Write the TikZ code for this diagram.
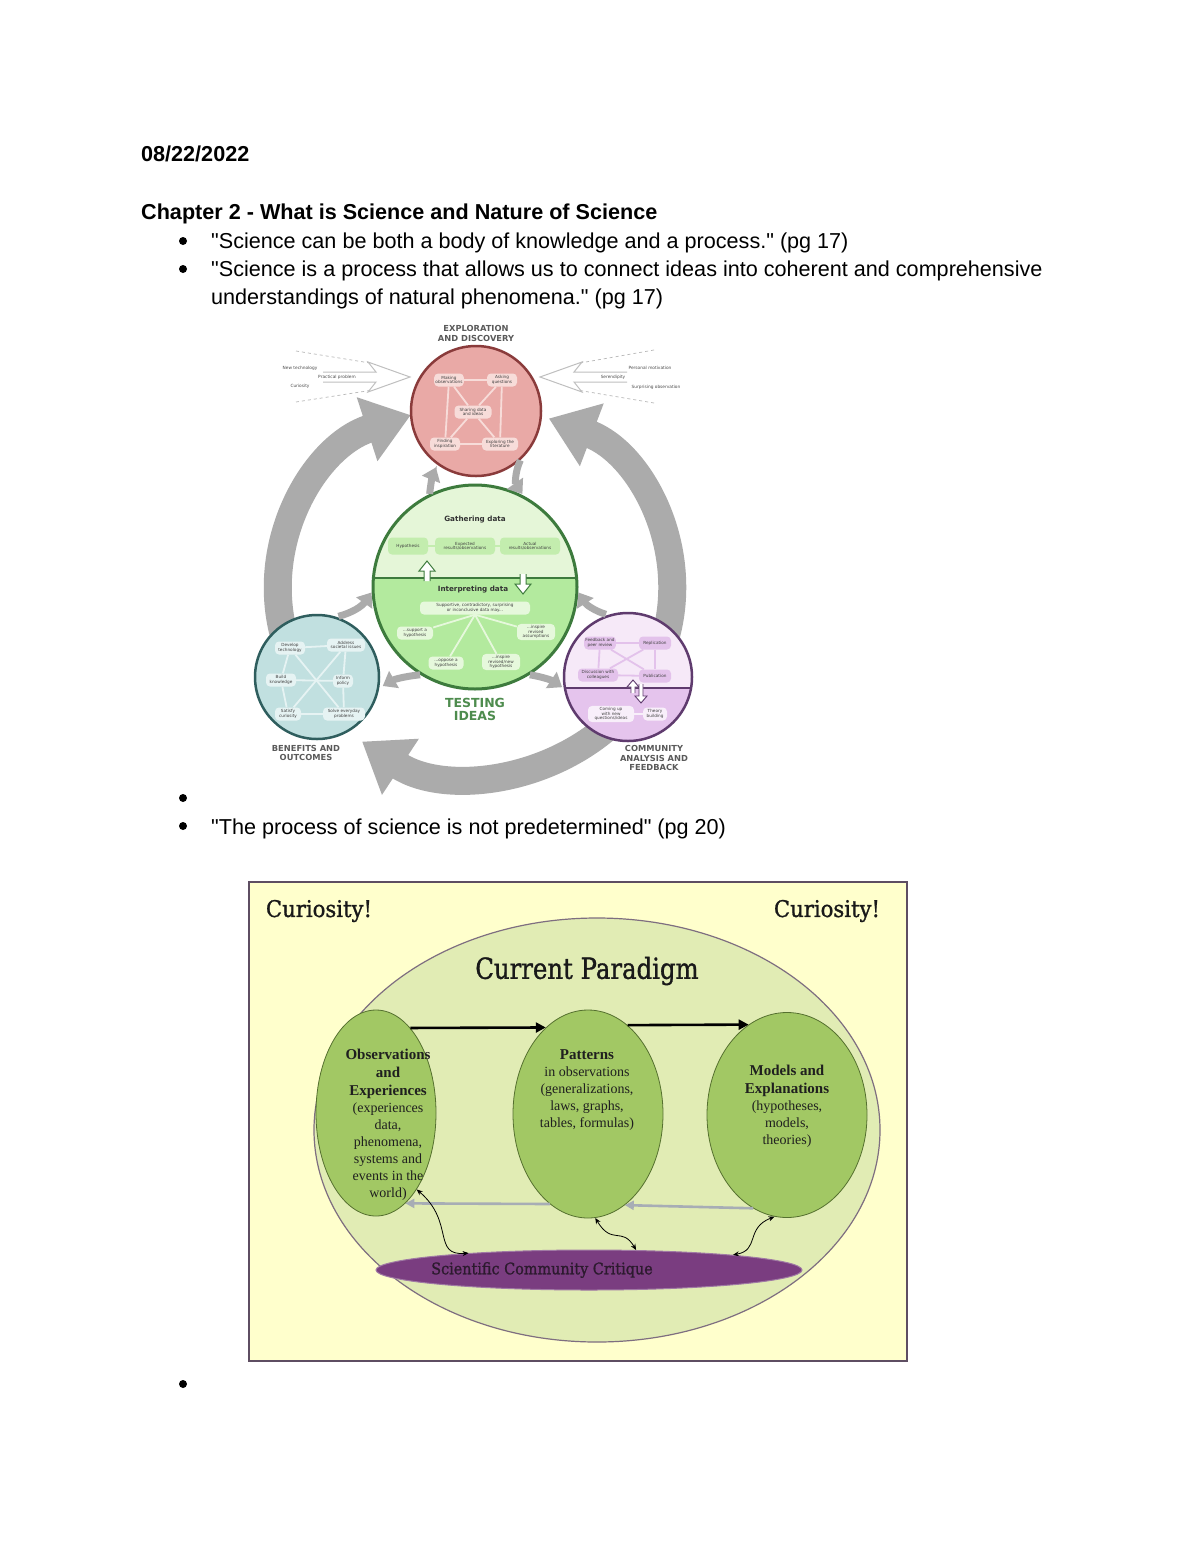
\documentclass[tikz,border=0pt]{standalone}
\usepackage{fontspec}
\usepackage{graphicx}
\setmainfont{Liberation Sans}[Ligatures=TeXOff]
\newfontfamily\timesf{Liberation Serif}
\newfontfamily\slabf{DejaVu Serif}[FakeBold=1.2]
\newfontfamily\dvsans{DejaVu Sans}
\usetikzlibrary{arrows.meta,shapes.geometric,calc}
\definecolor{biggrey}{HTML}{ABABAB}
\definecolor{pinkfill}{HTML}{E9A9A6}
\definecolor{pinkline}{HTML}{8A3B3B}
\definecolor{pinkbox}{HTML}{F7DCD9}
\definecolor{gtop}{HTML}{E5F6D8}
\definecolor{gbot}{HTML}{B3EA9E}
\definecolor{gline}{HTML}{3D7B3D}
\definecolor{gbox}{HTML}{C3EDAE}
\definecolor{glbox}{HTML}{E6F8DC}
\definecolor{tfill}{HTML}{C1E0E0}
\definecolor{tline}{HTML}{2F5E5E}
\definecolor{tbox}{HTML}{E6F3F3}
\definecolor{ltop}{HTML}{F6E9F8}
\definecolor{lbot}{HTML}{E5C4ED}
\definecolor{lline}{HTML}{5F3B6E}
\definecolor{lbox}{HTML}{E3C2EB}
\definecolor{llbox}{HTML}{F8EFFA}
\definecolor{labgrey}{HTML}{5A5A5A}
\definecolor{testgreen}{HTML}{4E8C4E}
\definecolor{paper}{HTML}{FFFFCC}
\definecolor{framec}{HTML}{5E4E62}
\definecolor{paradigm}{HTML}{E1ECB4}
\definecolor{pargrey}{HTML}{7E6E80}
\definecolor{ellg}{HTML}{A2C864}
\definecolor{ellline}{HTML}{55702F}
\definecolor{critfill}{HTML}{7A3D80}
\definecolor{critline}{HTML}{A07AA4}
\definecolor{critext}{HTML}{2C1A2E}
\definecolor{backarrow}{HTML}{A7ADB5}
\begin{document}
\begin{tikzpicture}[x=1pt,y=-1pt,
  bodytext/.style={anchor=base west,inner sep=0pt,font=\fontsize{21.6}{26}\selectfont},
  headtext/.style={anchor=base west,inner sep=0pt,font=\bfseries\fontsize{21.6}{26}\selectfont},
  bulletdot/.style={circle,fill=black,inner sep=0pt,minimum size=8pt},
  bigarrow/.style={draw=biggrey,line width=28pt,-{Triangle[length=46pt,width=64pt]}},
  smallarrow/.style={draw=biggrey,line width=7pt,-{Triangle[length=13pt,width=19pt]}},
  tinybox/.style={font=\dvsans\fontsize{4.2}{4.7}\selectfont,align=center,rounded corners=4pt,inner sep=1.3pt,text=black!75,minimum height=13pt},
  pinkbx/.style={tinybox,fill=pinkbox},
  greenbx/.style={tinybox,fill=gbox,minimum height=17pt},
  lgreenbx/.style={tinybox,fill=glbox},
  tealbx/.style={tinybox,fill=tbox},
  lilacbx/.style={tinybox,fill=lbox},
  llilacbx/.style={tinybox,fill=llbox},
  pinkln/.style={draw=pinkbox,line width=1.8pt},
  greenln/.style={draw=glbox,line width=1.8pt},
  gtopln/.style={draw=gbox,line width=1.8pt},
  tealln/.style={draw=tbox,line width=1.8pt},
  lilacln/.style={draw=lbox,line width=1.8pt},
  circlab/.style={font=\dvsans\bfseries\fontsize{8.3}{9.3}\selectfont,text=labgrey,align=center},
  secttitle/.style={font=\dvsans\bfseries\fontsize{7.2}{8}\selectfont,text=black!80},
  inlab/.style={font=\dvsans\fontsize{4.3}{5}\selectfont,text=black!70},
  dashline/.style={draw=black!28,dashed,line width=0.7pt},
  inarrow/.style={draw=black!25,fill=white,line width=1pt},
  hollowg/.style={draw=gline,fill=white,line width=1pt},
  hollowl/.style={draw=lline,fill=white,line width=0.9pt},
  ellfont/.style={font=\timesf\fontsize{14}{17}\selectfont,align=center,text=black!88},
  greenell/.style={ellipse,fill=ellg,draw=ellline,line width=0.8pt,inner sep=0pt},
  fwdarrow/.style={draw=black,line width=2.6pt,-{Triangle[length=10pt,width=10pt]}},
  bckarrow/.style={draw=backarrow,line width=2.6pt,-{Triangle[length=9pt,width=9pt]}},
  squig/.style={draw=black,line width=0.8pt,{Stealth[length=6pt,width=5pt]}-{Stealth[length=6pt,width=5pt]}}
]
\fill[white] (0,0) rectangle (1200,1553);
\useasboundingbox (0,0) rectangle (1200,1553);

% ---------------- text lines ----------------
\node[headtext] (date) at (141,161) {08/22/2022};
\node[headtext] (chap) at (141,219) {Chapter 2 - What is Science and Nature of Science};
\node[bulletdot] (bu1) at (183,241) {};
\node[bodytext] (q1) at (211,248) {"Science can be both a body of knowledge and a process." (pg 17)};
\node[bulletdot] (bu2) at (183,269) {};
\node[bodytext] (q2) at (211,276) {"Science is a process that allows us to connect ideas into coherent and comprehensive};
\node[bodytext] (q2b) at (211,304) {understandings of natural phenomena." (pg 17)};
\node[bulletdot] (bu3) at (183,798) {};
\node[bulletdot] (bu4) at (183,826) {};
\node[bodytext] (q3) at (211,834) {"The process of science is not predetermined" (pg 20)};
\node[bulletdot] (bu5) at (183,1384) {};

% ---------------- diagram 1: big cycle arrows ----------------
\coordinate (la) at ({475+197*cos(165)},{590+185*sin(165)});
\draw[bigarrow] (la) arc[start angle=165,end angle=251,x radius=197,y radius=185];
\coordinate (ra) at ({475+197*cos(15)},{590+185*sin(15)});
\draw[bigarrow] (ra) arc[start angle=15,end angle=-68,x radius=197,y radius=185];
\coordinate (ba) at ({475+197*cos(40)},{590+185*sin(40)});
\draw[bigarrow] (ba) arc[start angle=40,end angle=125,x radius=197,y radius=185];

% inputs to exploration
\draw[dashline] (296,351) -- (370,363);
\draw[dashline] (296,402) -- (373,390);
\draw[dashline] (654,350) -- (580,363);
\draw[dashline] (654,403) -- (577,390);
\draw[inarrow] (323,372) -- (376,372) -- (368,362) -- (410,377) -- (368,392) -- (376,382) -- (323,382);
\draw[inarrow] (627,372) -- (574,372) -- (582,362) -- (540,377) -- (582,392) -- (574,382) -- (627,382);
\node[inlab] (newt) at (300,368) {New technology};
\node[inlab] (prac) at (337,377) {Practical problem};
\node[inlab] (curi) at (300,386) {Curiosity};
\node[inlab] (pers) at (650,368) {Personal motivation};
\node[inlab] (sere) at (613,377) {Serendipity};
\node[inlab] (surp) at (656,387) {Surprising observation};

% exploration circle
\node[circlab] (explab) at (476,333.5) {EXPLORATION\\AND DISCOVERY};
\node[circle,minimum size=130,inner sep=0pt,fill=pinkfill,draw=pinkline,line width=2.5pt] (expl) at (476,411) {};
\node[pinkbx,minimum width=29] (mak) at (449,380) {Making\\observations};
\node[pinkbx,minimum width=30] (ask) at (502,380) {Asking\\questions};
\node[pinkbx,minimum width=37] (sha) at (473,412) {Sharing data\\and ideas};
\node[pinkbx,minimum width=30] (fin) at (445,444) {Finding\\inspiration};
\node[pinkbx,minimum width=36] (exl) at (500,444) {Exploring the\\literature};
\draw[pinkln] (mak) -- (ask);
\draw[pinkln] (mak) -- (fin);
\draw[pinkln] (ask) -- (exl);
\draw[pinkln] (fin) -- (exl);
\draw[pinkln] (sha) -- (mak);
\draw[pinkln] (sha) -- (ask);
\draw[pinkln] (sha) -- (fin);
\draw[pinkln] (sha) -- (exl);

% testing circle
\begin{scope}
\clip (475,587) circle[radius=102];
\fill[gtop] (370,480) rectangle (580,578);
\fill[gbot] (370,578) rectangle (580,695);
\draw[gline,line width=1.5pt] (370,578) -- (580,578);
\end{scope}
\node[circle,minimum size=204,inner sep=0pt,draw=gline,line width=3pt] (test) at (475,587) {};
\node[secttitle] (gath) at (475,520) {Gathering data};
\node[greenbx,minimum width=40] (hyp) at (408,546) {Hypothesis};
\node[greenbx,minimum width=60] (expr) at (465,546) {Expected\\results/observations};
\node[greenbx,minimum width=60] (actr) at (530,546) {Actual\\results/observations};
\draw[gtopln] (hyp) -- (expr);
\draw[gtopln] (expr) -- (actr);
\draw[hollowg] (424,581) -- (424,571) -- (419,571) -- (427,561) -- (435,571) -- (430,571) -- (430,581);
\draw[hollowg] (520,574) -- (520,584) -- (515,584) -- (523,594) -- (531,584) -- (526,584) -- (526,574);
\node[secttitle] (interp) at (473,590) {Interpreting data};
\node[lgreenbx,minimum width=110] (supp) at (475,608) {Supportive, contradictory, surprising\\or inconclusive data may...};
\node[lgreenbx,minimum width=36] (sup) at (415,633) {...support a\\hypothesis};
\node[lgreenbx,minimum width=35] (opp) at (446,663) {...oppose a\\hypothesis};
\node[lgreenbx,minimum width=38] (insp) at (501,662) {...inspire\\revised/new\\hypothesis};
\node[lgreenbx,minimum width=38] (insa) at (536,632) {...inspire\\revised\\assumptions};
\draw[greenln] (supp.south) -- (sup);
\draw[greenln] (supp.south) -- (opp);
\draw[greenln] (supp.south) -- (insp);
\draw[greenln] (supp.south) -- (insa);
\node[font=\dvsans\bfseries\fontsize{12.5}{13}\selectfont,text=testgreen,align=center] (tlab) at (475,709) {TESTING\\IDEAS};

% benefits circle
\node[circle,minimum size=124,inner sep=0pt,fill=tfill,draw=tline,line width=2.5pt] (ben) at (317,677) {};
\node[tealbx,minimum width=30] (dev) at (290,648) {Develop\\technology};
\node[tealbx,minimum width=38] (adr) at (346,645) {Address\\societal issues};
\node[tealbx,minimum width=30] (bui) at (281,680) {Build\\knowledge};
\node[tealbx,minimum width=20] (inf) at (343,681) {Inform\\policy};
\node[tealbx,minimum width=26] (sat) at (288,714) {Satisfy\\curiosity};
\node[tealbx,minimum width=42] (sol) at (344,714) {Solve everyday\\problems};
\draw[tealln] (dev) -- (adr);
\draw[tealln] (dev) -- (bui);
\draw[tealln] (bui) -- (sat);
\draw[tealln] (adr) -- (inf);
\draw[tealln] (inf) -- (sol);
\draw[tealln] (sat) -- (sol);
\draw[tealln] (dev) -- (sol);
\draw[tealln] (adr) -- (sat);
\draw[tealln] (bui) -- (inf);
\node[circlab] (benlab) at (306,753) {BENEFITS AND\\OUTCOMES};

% community circle
\begin{scope}
\clip (628,677) circle[radius=64];
\fill[ltop] (560,610) rectangle (700,688);
\fill[lbot] (560,688) rectangle (700,745);
\draw[lline,line width=1.3pt] (560,688) -- (700,688);
\end{scope}
\node[circle,minimum size=128,inner sep=0pt,draw=lline,line width=2.5pt] (comm) at (628,677) {};
\node[lilacbx,minimum width=30] (fdb) at (600,643) {Feedback and\\peer review};
\node[lilacbx,minimum width=32] (rep) at (655,643) {Replication};
\node[lilacbx,minimum width=40] (dis) at (598,675) {Discussion with\\colleagues};
\node[lilacbx,minimum width=32] (pub) at (655,676) {Publication};
\node[llilacbx,minimum width=46] (com) at (611,714) {Coming up\\with new\\questions/ideas};
\node[llilacbx,minimum width=24] (the) at (655,714) {Theory\\building};
\draw[lilacln] (fdb) -- (rep);
\draw[lilacln] (fdb) -- (dis);
\draw[lilacln] (rep) -- (pub);
\draw[lilacln] (dis) -- (pub);
\draw[lilacln] (fdb) -- (pub);
\draw[lilacln] (rep) -- (dis);
\draw[draw=llbox,line width=1.8pt] (com) -- (the);
\draw[hollowl] (631,693) -- (631,687) -- (627,687) -- (633,680) -- (639,687) -- (635,687) -- (635,693);
\draw[hollowl] (639,684) -- (639,696) -- (635,696) -- (641,703) -- (647,696) -- (643,696) -- (643,684);
\node[circlab] (comlab) at (654,758) {COMMUNITY\\ANALYSIS AND\\FEEDBACK};

% small arrows
\draw[smallarrow,shorten >=3pt] (test.116) to[bend left=8] (expl.234);
\draw[smallarrow,shorten >=2pt] (expl.-48) to[bend right=30] (test.62);
\draw[smallarrow,shorten <=2pt] (ben.72) to[bend right=20] (test.183);
\draw[smallarrow,shorten >=4pt] (test.238) to[bend right=12] (ben.-10);
\draw[smallarrow,shorten <=2pt] (comm.108) to[bend left=20] (test.-3);
\draw[smallarrow,shorten >=2pt] (test.-58) to[bend left=12] (comm.190);

% ---------------- diagram 2 ----------------
\node[draw=framec,line width=2.5pt,fill=paper,minimum width=658,minimum height=479,inner sep=0pt] (frame) at (578,1121.5) {};
\node[ellipse,fill=paradigm,draw=pargrey,line width=1.2pt,minimum width=566,minimum height=424,inner sep=0pt] (para) at (597,1130) {};
\node[font=\slabf\fontsize{23}{26}\selectfont,text=black!90] (cur1) at (319,911) {\scalebox{0.92}[1]{Curiosity!}};
\node[font=\slabf\fontsize{23}{26}\selectfont,text=black!90] (cur2) at (827,911) {\scalebox{0.92}[1]{Curiosity!}};
\node[font=\slabf\fontsize{29}{32}\selectfont,text=black!90] (cp) at (587,971) {\scalebox{0.84}[1]{Current Paradigm}};
\node[greenell,minimum width=120,minimum height=206] (obs) at (376,1113) {};
\node[greenell,minimum width=150,minimum height=208] (pat) at (588,1114) {};
\node[greenell,minimum width=160,minimum height=205] (mod) at (787,1115) {};
\node[ellfont] (obstext) at (388,1125) {{\bfseries\fontsize{15}{19}\selectfont Observations}\\[1pt]{\bfseries\fontsize{15}{19}\selectfont and}\\[1pt]{\bfseries\fontsize{15}{19}\selectfont Experiences}\\(experiences\\data,\\phenomena,\\systems and\\events in the\\world)};
\node[ellfont] (pattext) at (587,1090) {{\bfseries\fontsize{15}{19}\selectfont Patterns}\\in observations\\(generalizations,\\laws, graphs,\\tables, formulas)};
\node[ellfont] (modtext) at (787,1106) {{\bfseries\fontsize{15}{19}\selectfont Models and}\\[1pt]{\bfseries\fontsize{15}{19}\selectfont Explanations}\\(hypotheses,\\models,\\theories)};
\node[ellipse,fill=critfill,draw=critline,line width=1pt,minimum width=426,minimum height=40,inner sep=0pt] (crit) at (589,1270) {};
\node[font=\slabf\fontsize{16}{18}\selectfont,text=critext] (crittext) at (542,1270) {\scalebox{0.9}[1]{Scientific Community Critique}};
\draw[fwdarrow] (obs.68) -- (pat.116);
\draw[fwdarrow] (pat.66) -- (mod.113);
\draw[bckarrow] (pat.247) -- (obs.288);
\draw[bckarrow] (mod.250) -- (pat.292);
\draw[squig] (obs.-62) .. controls (455,1222) and (432,1256) .. (crit.172.5);
\draw[squig] (pat.-86) .. controls (612,1246) and (622,1226) .. (crit.23);
\draw[squig] (mod.-97) .. controls (745,1228) and (760,1250) .. (crit.6);
\end{tikzpicture}
\end{document}
